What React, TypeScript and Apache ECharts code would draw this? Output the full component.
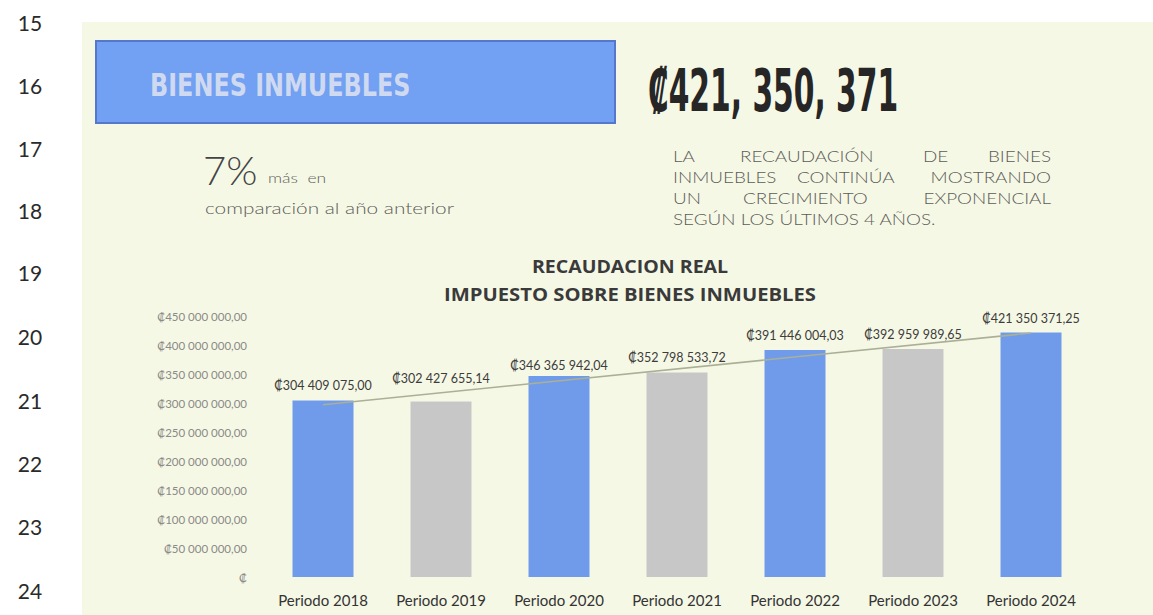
import React, { useEffect, useRef } from "react";
import * as echarts from "echarts";

const categories = ["Periodo 2018", "Periodo 2019", "Periodo 2020", "Periodo 2021", "Periodo 2022", "Periodo 2023", "Periodo 2024"];
const values = [304409075.0, 302427655.14, 346365942.04, 352798533.72, 391446004.03, 392959989.65, 421350371.25];
// linear trend line, end points
const trendIndex = [0, 6];
const trendValues = [297000000, 420600000];
const yMin = 0;
const yMax = 450000000;
const yInterval = 50000000;
const rowNumbers = ["15", "16", "17", "18", "19", "20", "21", "22", "23", "24"];

const BLUE = "#6f9bea";
const GRAY = "#c7c7c7";
const FONT = 'Lato, "Open Sans", "DejaVu Sans", sans-serif';

function fmt(v: number): string {
  if (v === 0) return "₡";
  const [i, d] = v.toFixed(2).split(".");
  return "₡" + i.replace(/\B(?=(\d{3})+(?!\d))/g, " ") + "," + d;
}

export default function App() {
  const ref = useRef<HTMLDivElement>(null);
  useEffect(() => {
    document.body.style.margin = "0";
    const chart = echarts.init(ref.current!, null, { renderer: "svg" });
    const rowYs = [22, 85, 148, 210, 272, 336, 400, 463, 526, 590];
    const txt = (text: string, x: number, y: number, size: number, fill: string, extra: any = {}, el: any = {}) => ({
      type: "text",
      x,
      y,
      ...el,
      style: {
        text,
        fill,
        fontSize: size,
        fontFamily: FONT,
        align: "left",
        verticalAlign: "middle",
        ...extra,
      },
    });
    const para: any[] = [];
    const pc = "#5c5c58";
    const pf = 16;
    [
      [["LA", 673, "left"], ["RECAUDACIÓN", 740, "left"], ["DE", 923, "left"], ["BIENES", 1051, "right"]],
      [["INMUEBLES", 673, "left"], ["CONTINÚA", 797, "left"], ["MOSTRANDO", 1051, "right"]],
      [["UN", 673, "left"], ["CRECIMIENTO", 743, "left"], ["EXPONENCIAL", 1051, "right"]],
      [["SEGÚN LOS ÚLTIMOS 4 AÑOS.", 673, "left"]],
    ].forEach((line: any, li: number) => {
      line.forEach(([w, x, al]: any) => {
        para.push(txt(w, x, 156 + li * 21, pf, pc, { fontWeight: 300, align: al }, { scaleX: 1.18 }));
      });
    });

    const option: any = {
      animation: false,
      backgroundColor: "#ffffff",
      graphic: [
        { type: "rect", z: -10, shape: { x: 82, y: 22, width: 1071, height: 593 }, style: { fill: "#f6f8e6" } },
        ...rowNumbers.map((r, i) => txt(r, 30, rowYs[i], 21, "#2a2a2a", { align: "center" })),
        {
          type: "rect",
          shape: { x: 96, y: 41, width: 519, height: 82 },
          style: { fill: "#72a0f2", stroke: "#5577cc", lineWidth: 2 },
        },
        txt("BIENES INMUEBLES", 150, 85, 32, "#cfd9f0", { fontFamily: '"DejaVu Sans Condensed", "DejaVu Sans"', fontWeight: "bold" }, { scaleX: 0.83 }),
        txt("₡421, 350, 371", 648, 91, 58, "#262626", { fontFamily: '"DejaVu Sans Condensed", "DejaVu Sans"', fontWeight: "bold" }, { scaleX: 0.57 }),
        ...para,
        txt("7%", 203, 170, 40, "#444444", { fontWeight: 300 }),
        txt("más  en", 268, 177, 14, "#5c5c58", { fontWeight: 300 }, { scaleX: 1.25 }),
        txt("comparación al año anterior", 205, 208, 16, "#5c5c58", { fontWeight: 300 }, { scaleX: 1.3 }),
        txt("RECAUDACION REAL", 630, 266, 17, "#3a3a3a", { align: "center", fontWeight: "bold", fontFamily: '"Open Sans", Lato, sans-serif' }, { scaleX: 1.15 }),
        txt("IMPUESTO SOBRE BIENES INMUEBLES", 630, 294, 17, "#3a3a3a", { align: "center", fontWeight: "bold", fontFamily: '"Open Sans", Lato, sans-serif' }, { scaleX: 1.19 }),
      ],
      grid: { left: 264, right: 63, top: 316, bottom: 38, containLabel: false },
      xAxis: {
        type: "category",
        data: categories,
        axisLine: { show: false },
        axisTick: { show: false },
        axisLabel: { interval: 0, hideOverlap: false, color: "#333333", fontSize: 15, fontFamily: FONT, margin: 15 },
      },
      yAxis: {
        type: "value",
        min: yMin,
        max: yMax,
        interval: yInterval,
        splitLine: { show: false },
        axisLine: { show: false },
        axisTick: { show: false },
        axisLabel: { color: "#8a8a86", fontSize: 11.5, fontFamily: FONT, margin: 17, formatter: (v: number) => fmt(v) },
      },
      series: [
        {
          type: "bar",
          barWidth: 61,
          data: values.map((v, i) => ({
            value: v,
            itemStyle: { color: i % 2 === 0 ? BLUE : GRAY },
            label: i === 1 ? { distance: 17 } : i === 2 ? { distance: 4 } : undefined,
          })),
          label: {
            show: true,
            position: "top",
            distance: 8,
            color: "#3c3c3c",
            fontSize: 12.5,
            fontFamily: FONT,
            formatter: (p: any) => fmt(p.value),
          },
        },
        {
          type: "line",
          data: trendIndex.map((x, i) => [x, trendValues[i]]),
          symbol: "none",
          lineStyle: { color: "#aab096", width: 1.6 },
          z: 3,
        },
      ],
    };
    chart.setOption(option);
    return () => chart.dispose();
  }, []);
  return <div ref={ref} style={{ width: 1153, height: 615 }} />;
}
